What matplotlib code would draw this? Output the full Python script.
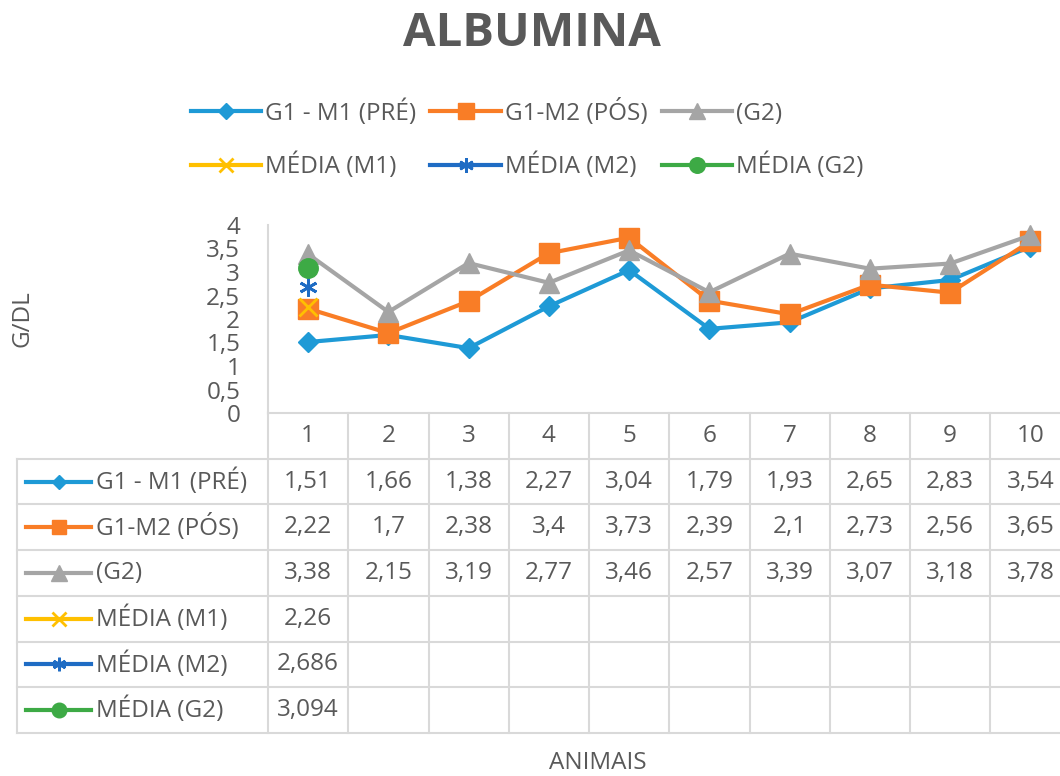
import numpy as np
import matplotlib
matplotlib.use("Agg")
import matplotlib.pyplot as plt
from matplotlib.lines import Line2D
from matplotlib.ticker import FuncFormatter
from matplotlib.transforms import blended_transform_factory

plt.rcParams['font.family'] = ['Open Sans', 'DejaVu Sans']

animais = ["1", "2", "3", "4", "5", "6", "7", "8", "9", "10"]
g1_m1 = [1.51, 1.66, 1.38, 2.27, 3.04, 1.79, 1.93, 2.65, 2.83, 3.54]
g1_m2 = [2.22, 1.7, 2.38, 3.4, 3.73, 2.39, 2.1, 2.73, 2.56, 3.65]
g2 = [3.38, 2.15, 3.19, 2.77, 3.46, 2.57, 3.39, 3.07, 3.18, 3.78]
media_m1 = [2.26]
media_m2 = [2.686]
media_g2 = [3.094]
nomes = ["G1 - M1 (PRÉ)", "G1-M2 (PÓS)", "(G2)", "MÉDIA (M1)", "MÉDIA (M2)", "MÉDIA (G2)"]

txt = '#595959'
grid = '#D9D9D9'
fs = 17.5
estilos = [
    dict(color='#1E9AD6', marker='D', markersize=10),
    dict(color='#F97D26', marker='s', markersize=14),
    dict(color='#A5A5A5', marker='^', markersize=15),
    dict(color='#FFC000', marker='x', markersize=13, markeredgewidth=2),
    dict(color='#1F6CC4', marker=(6, 2, 0), markersize=13, markeredgewidth=2),
    dict(color='#3DAA45', marker='o', markersize=14),
]
series = [g1_m1, g1_m2, g2, media_m1, media_m2, media_g2]

def fmt(v):
    return f"{v:g}".replace('.', ',')

fig = plt.figure(figsize=(10.6, 7.76), dpi=100)
W, H = 1060, 776

# camada em pixels para a tabela
ov = fig.add_axes([0, 0, 1, 1])
ov.set_xlim(0, W)
ov.set_ylim(H, 0)
ov.axis('off')

x0, xr, y0, y4 = 268, 1070.5, 413, 225
ax = fig.add_axes([x0 / W, (H - y0) / H, (xr - x0) / W, (y0 - y4) / H])
ax.set_xlim(-0.5, 9.5)
ax.set_ylim(0, 4)

handles = []
for s, st in zip(series, estilos):
    xs = np.arange(len(s))
    h, = ax.plot(xs, s, linewidth=3, clip_on=False, zorder=3, **st)
    handles.append(h)

ax.set_xticks([])
ax.set_yticks(np.arange(0, 4.01, 0.5))
ax.yaxis.set_major_formatter(FuncFormatter(lambda v, p: fmt(v)))
ax.tick_params(axis='y', length=0, pad=20, labelsize=fs, labelcolor=txt)
for sp in ['top', 'right']:
    ax.spines[sp].set_visible(False)
for sp in ['left', 'bottom']:
    ax.spines[sp].set_color(grid)
    ax.spines[sp].set_linewidth(1.5)
ax.set_ylabel("G/DL", fontsize=fs, color=txt)
ax.yaxis.set_label_coords(-234 / (xr - x0), 0.5)

# tabela de dados
bt = blended_transform_factory(ax.transData, ov.transData)
rows = np.linspace(413, 733, 8)
lw = 1.5
for yl in rows[1:]:
    ov.plot([17, W], [yl, yl], color=grid, lw=lw, clip_on=False)
ov.plot([17, 17], [rows[1], rows[-1]], color=grid, lw=lw)
ov.plot([x0, x0], [y0, rows[-1]], color=grid, lw=lw)
for i in range(len(animais)):
    ax.plot([i + 0.5, i + 0.5], [rows[0], rows[-1]], color=grid, lw=lw,
            transform=bt, clip_on=False)
    ax.text(i, (rows[0] + rows[1]) / 2, animais[i], transform=bt,
            ha='center', va='center', fontsize=fs, color=txt)

for r, (nome, s, st) in enumerate(zip(nomes, series, estilos)):
    yc = (rows[r + 1] + rows[r + 2]) / 2
    ov.add_line(Line2D([26, 91], [yc, yc], color=st['color'], lw=3))
    kw = {k: v for k, v in st.items() if k != 'color'}
    kw['markersize'] = kw['markersize'] * 0.75
    ov.plot([58.5], [yc], color=st['color'], linestyle='none', **kw)
    ov.text(96, yc, nome, ha='left', va='center', fontsize=fs, color=txt)
    for i, v in enumerate(s):
        ax.text(i, yc, fmt(v), transform=bt, ha='center', va='center',
                fontsize=fs, color=txt)

fig.text(532 / W, 1 - 33 / H, "ALBUMINA", ha='center', va='center',
         fontsize=34, fontweight='bold', color=txt)
fig.text(598 / W, 1 - 763 / H, "ANIMAIS", ha='center', va='center',
         fontsize=fs, color=txt)

order = [0, 3, 1, 4, 2, 5]
leg = fig.legend([handles[k] for k in order], [nomes[k] for k in order],
                 ncol=3, loc='center', bbox_to_anchor=(527 / W, 1 - 139 / H),
                 frameon=False, fontsize=fs, labelcolor=txt,
                 handlelength=2.9, handletextpad=0.15, columnspacing=0.6,
                 labelspacing=1.1)
for h in leg.legend_handles:
    h.set_markersize(h.get_markersize() * 0.8)

fig.savefig("out.png", dpi=100)
